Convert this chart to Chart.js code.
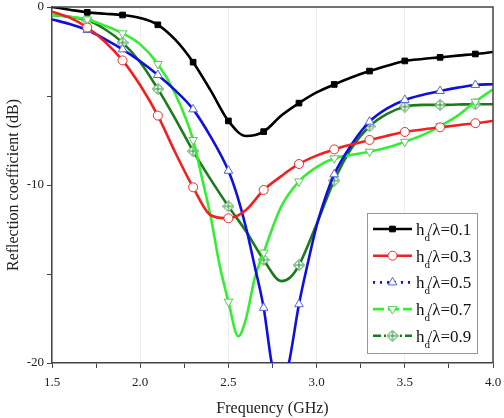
<!DOCTYPE html>
<html>
<head>
<meta charset="UTF-8">
<title>Reflection coefficient</title>
<script src="https://cdn.jsdelivr.net/npm/chart.js"></script>
<style>
    body { margin: 0; background: #fff; }
    #wrap { width: 504px; height: 418px; }
</style>
</head>
<body>
<div id="wrap"><canvas id="chart"></canvas></div>
<script>
// frequencies (GHz) and reflection coefficient (dB)
const freqA = [1.5,1.6,1.7,1.8,1.9,2.0,2.1,2.2,2.3,2.4,2.5,2.6,2.7,2.8,2.9,3.0,3.1,3.2,3.3,3.4,3.5,3.6,3.7,3.8,3.9,4.0];
const s01 = [0,-0.15,-0.30,-0.38,-0.45,-0.62,-1.0,-1.85,-3.1,-4.7,-6.4,-7.25,-7.0,-6.1,-5.4,-4.8,-4.35,-3.95,-3.6,-3.3,-3.03,-2.92,-2.83,-2.73,-2.64,-2.53];
const s03 = [-0.26,-0.6,-1.15,-1.95,-3.0,-4.4,-6.1,-8.2,-10.13,-11.7,-11.87,-11.4,-10.28,-9.5,-8.82,-8.35,-8.0,-7.72,-7.47,-7.23,-7.02,-6.88,-6.76,-6.64,-6.53,-6.4];

const freq05 = [1.5,1.6,1.7,1.8,1.9,2.0,2.1,2.2,2.3,2.4,2.5,2.55,2.6,2.65,2.7,2.745,2.79,2.843,2.9,2.95,3.0,3.05,3.1,3.2,3.3,3.4,3.5,3.6,3.7,3.8,3.9,4.0];
const s05 = [-0.7,-0.95,-1.29,-1.8,-2.38,-3.05,-3.82,-4.7,-5.75,-7.3,-9.2,-10.6,-12.4,-14.6,-16.9,-20,-21.8,-20,-16.7,-14.4,-12.3,-10.7,-9.4,-7.7,-6.44,-5.7,-5.22,-4.94,-4.72,-4.53,-4.38,-4.34];

const freq07 = [1.5,1.6,1.7,1.8,1.9,2.0,2.1,2.2,2.3,2.35,2.4,2.45,2.5,2.556,2.6,2.65,2.7,2.75,2.8,2.9,3.0,3.1,3.2,3.3,3.4,3.5,3.6,3.7,3.8,3.9,4.0];
const s07 = [-0.45,-0.55,-0.7,-1.05,-1.48,-2.1,-3.2,-4.9,-7.47,-9.6,-11.8,-14.5,-16.55,-18.5,-17.5,-15.2,-13.8,-12.4,-11.2,-9.8,-9.0,-8.5,-8.3,-8.13,-7.9,-7.57,-7.2,-6.69,-6.1,-5.32,-4.62];

const freq09 = [1.5,1.6,1.7,1.8,1.9,2.0,2.1,2.2,2.3,2.4,2.5,2.6,2.7,2.8,2.85,2.9,3.0,3.1,3.2,3.3,3.4,3.5,3.6,3.7,3.8,3.9,4.0];
const s09 = [-0.45,-0.55,-0.75,-1.25,-2.0,-3.1,-4.6,-6.3,-8.1,-9.7,-11.2,-12.6,-14.2,-15.4,-15.2,-14.5,-12.2,-9.75,-7.9,-6.7,-6.0,-5.6,-5.5,-5.5,-5.48,-5.46,-5.46];

const markerFreqs = [1.7,1.9,2.1,2.3,2.5,2.7,2.9,3.1,3.3,3.5,3.7,3.9];
const labels = ['0.1','0.3','0.5','0.7','0.9'];

function pairs(xs, ys) { return xs.map((x, i) => ({x: x, y: ys[i]})); }
function isMarker(x) { return markerFreqs.some(f => Math.abs(f - x) < 1e-6); }

// diamond with cross marker for the 0.9 series
const diamond = document.createElement('canvas');
diamond.width = 12; diamond.height = 12;
(function () {
    const c = diamond.getContext('2d');
    c.strokeStyle = '#1f8a2a'; c.fillStyle = '#fff'; c.lineWidth = 1;
    c.beginPath();
    c.moveTo(6, 0.5); c.lineTo(11.5, 6); c.lineTo(6, 11.5); c.lineTo(0.5, 6); c.closePath();
    c.fill(); c.stroke();
    c.beginPath();
    c.moveTo(6, 2); c.lineTo(6, 10); c.moveTo(2, 6); c.lineTo(10, 6);
    c.stroke();
})();

const styles = [
    {color: '#000000', mFill: '#000000', mEdge: '#000000', point: 'rect', r: 4, rot: 0, dash: []},
    {color: '#ee2222', mFill: '#ffffff', mEdge: '#e83030', point: 'circle', r: 4.5, rot: 0, dash: []},
    {color: '#1010dd', mFill: '#ffffff', mEdge: '#5566dd', point: 'triangle', r: 5, rot: 0, dash: [2, 5]},
    {color: '#33ee33', mFill: '#ffffff', mEdge: '#55cc55', point: 'triangle', r: 5, rot: 180, dash: [11, 4]},
    {color: '#1c7a1c', mFill: '#ffffff', mEdge: '#1f8a2a', point: diamond, r: 6, rot: 0, dash: [8, 3, 2, 3]}
];

const series = [pairs(freqA, s01), pairs(freqA, s03), pairs(freq05, s05), pairs(freq07, s07), pairs(freq09, s09)];

const datasets = series.map((d, i) => ({
    label: 'hd/λ=' + labels[i],
    data: d,
    borderColor: styles[i].color,
    borderWidth: 2.6,
    cubicInterpolationMode: 'monotone',
    pointStyle: styles[i].point,
    pointRotation: styles[i].rot,
    pointBackgroundColor: styles[i].mFill,
    pointBorderColor: styles[i].mEdge,
    pointBorderWidth: 1,
    pointRadius: ctx => isMarker(ctx.raw.x) ? styles[i].r : 0,
    pointHoverRadius: 0
}));

// box round the plot area
const frame = {
    id: 'frame',
    afterDraw(chart) {
        const a = chart.chartArea, c = chart.ctx;
        c.save();
        c.strokeStyle = '#444'; c.lineWidth = 1.5;
        c.beginPath();
        c.moveTo(a.left, a.top); c.lineTo(a.right, a.top); c.lineTo(a.right, a.bottom);
        c.stroke();
        c.restore();
    }
};

// legend with line sample, marker and subscript text
const legendBox = {
    id: 'legendBox',
    afterDraw(chart) {
        const c = chart.ctx;
        c.save();
        c.fillStyle = '#fff';
        c.fillRect(367, 213, 110, 140);
        c.strokeStyle = '#999'; c.lineWidth = 1;
        c.strokeRect(367.5, 213.5, 110, 140);
        styles.forEach((s, i) => {
            const y = 229 + i * 26.7;
            c.strokeStyle = s.color; c.lineWidth = 2.6;
            c.setLineDash(s.dash);
            c.beginPath(); c.moveTo(373, y); c.lineTo(412, y); c.stroke();
            c.setLineDash([]);
            if (s.point === diamond) {
                c.drawImage(diamond, 392.5 - 6, y - 6);
            } else {
                c.fillStyle = s.mFill; c.strokeStyle = s.mEdge; c.lineWidth = 1;
                Chart.helpers.drawPoint(c, {pointStyle: s.point, radius: s.r, rotation: s.rot, borderWidth: 1}, 392.5, y);
            }
            c.fillStyle = '#111';
            c.textBaseline = 'alphabetic';
            c.font = '17px "Liberation Serif"';
            c.fillText('h', 416, y + 6);
            const hw = c.measureText('h').width;
            c.font = '11px "Liberation Serif"';
            c.fillText('d', 416 + hw, y + 12);
            c.font = '17px "Liberation Serif"';
            c.fillText('/λ=' + labels[i], 416 + hw + 3, y + 6);
        });
        c.restore();
    }
};

new Chart(document.getElementById('chart'), {
    type: 'line',
    data: {datasets: datasets},
    options: {
        responsive: true,
        maintainAspectRatio: false,
        animation: false,
        layout: {padding: {top: 7, right: 11, left: 0, bottom: 0}},
        plugins: {legend: {display: false}, tooltip: {enabled: false}},
        scales: {
            x: {
                type: 'linear',
                min: 1.5, max: 4.0,
                afterFit: s => { s.height = 55; s.paddingRight = 0; s.paddingLeft = 0; },
                border: {color: '#444', width: 1.5},
                grid: {
                    color: ctx => (Math.abs(ctx.tick.value * 2 - Math.round(ctx.tick.value * 2)) < 1e-6) ? '#eeeeee' : 'rgba(0,0,0,0)',
                    tickColor: '#444',
                    tickLength: 5
                },
                ticks: {
                    stepSize: 0.25,
                    color: '#222',
                    font: {family: 'Liberation Serif', size: 13},
                    maxRotation: 0,
                    autoSkip: false,
                    padding: 7,
                    callback: v => (Math.abs(v * 2 - Math.round(v * 2)) < 1e-6) ? v.toFixed(1) : ''
                },
                title: {display: true, text: 'Frequency (GHz)', color: '#222', font: {family: 'Liberation Serif', size: 16}, padding: {top: 6, bottom: 0}}
            },
            y: {
                min: -20, max: 0,
                afterFit: s => { s.width = 52; s.paddingTop = 0; s.paddingBottom = 0; },
                border: {color: '#444', width: 1.5},
                grid: {drawOnChartArea: false, tickColor: '#444', tickLength: 5},
                ticks: {
                    stepSize: 5,
                    color: '#222',
                    font: {family: 'Liberation Serif', size: 13},
                    padding: 3,
                    callback: v => (v % 10 === 0) ? String(v) : ''
                },
                title: {display: true, text: 'Reflection coefficient (dB)', color: '#222', font: {family: 'Liberation Serif', size: 16}, padding: {bottom: 2}}
            }
        }
    },
    plugins: [frame, legendBox]
});
</script>
</body>
</html>
